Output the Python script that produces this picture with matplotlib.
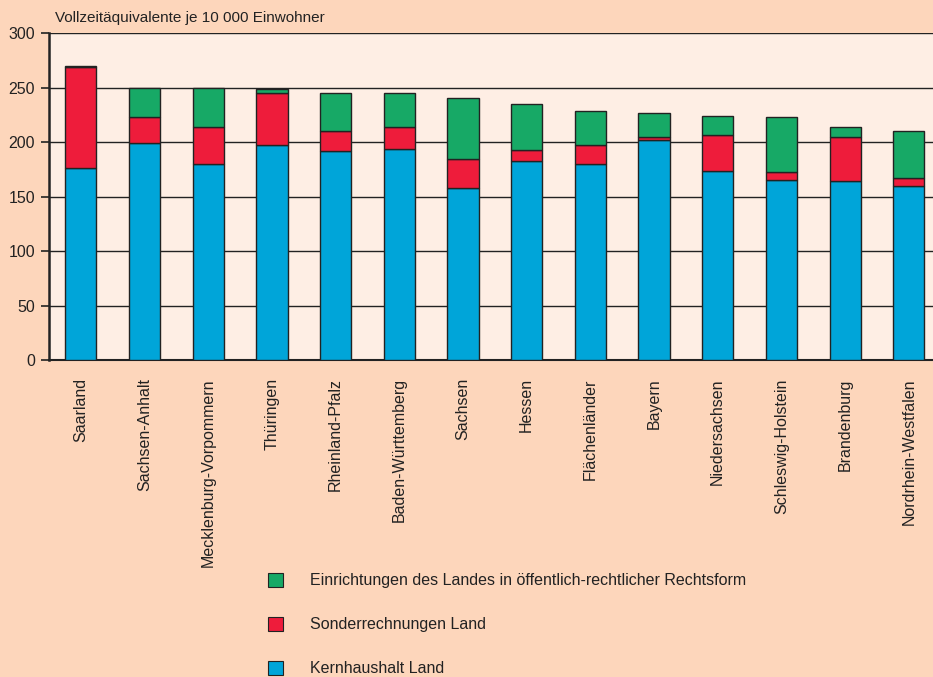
import numpy as np
import matplotlib.pyplot as plt
from matplotlib.patches import Patch

plt.rcParams['font.family'] = ['Liberation Sans', 'DejaVu Sans']

# Laender, sorted by total
laender = ["Saarland", "Sachsen-Anhalt", "Mecklenburg-Vorpommern", "Thüringen",
           "Rheinland-Pfalz", "Baden-Württemberg", "Sachsen", "Hessen",
           "Flächenländer", "Bayern", "Niedersachsen", "Schleswig-Holstein",
           "Brandenburg", "Nordrhein-Westfalen"]
kernhaushalt = [176, 199, 180, 197, 192, 194, 158, 182.5, 180, 202, 174, 165, 164, 160]
sonderrechnungen = [93, 24, 34, 48, 18, 20, 27, 10, 17, 2.5, 33, 7.5, 40.5, 7]
einrichtungen = [0.5, 27, 35.5, 4, 35, 31, 55.5, 42.5, 32, 22, 17, 50.5, 9, 43]

labels = ["Einrichtungen des Landes in öffentlich-rechtlicher Rechtsform",
          "Sonderrechnungen Land", "Kernhaushalt Land"]
c_green = "#17a966"
c_red = "#ee1c3b"
c_blue = "#00a5d9"
edge = "#222222"

fig = plt.figure(figsize=(9.33, 6.77), dpi=100)
fig.patch.set_facecolor("#fdd6bb")
ax = fig.add_axes([0.0525, 0.468, 0.9475, 0.483])
ax.set_facecolor("#feeee4")

x = np.arange(len(laender))
kern = np.array(kernhaushalt)
sond = np.array(sonderrechnungen)
einr = np.array(einrichtungen)
w = 0.49
ax.bar(x, kern, w, color=c_blue, edgecolor=edge, linewidth=1, zorder=3)
ax.bar(x, sond, w, bottom=kern, color=c_red, edgecolor=edge, linewidth=1, zorder=3)
ax.bar(x, einr, w, bottom=kern + sond, color=c_green, edgecolor=edge, linewidth=1, zorder=3)

ax.set_ylim(0, 300)
ax.set_yticks(range(0, 301, 50))
ax.set_xlim(-0.5, 13.38)
ax.grid(axis="y", color="#222222", linewidth=1, zorder=1)
ax.set_axisbelow(True)
for s in ["top", "right"]:
    ax.spines[s].set_visible(False)
ax.spines["left"].set_linewidth(1.8)
ax.spines["left"].set_color(edge)
ax.spines["bottom"].set_linewidth(1.5)
ax.spines["bottom"].set_color(edge)

ax.set_xticks(x)
ax.set_xticklabels(laender, rotation=90, fontsize=11.5, color="#222222")
ax.tick_params(axis="x", length=0, pad=13)
ax.tick_params(axis="y", length=6, width=1.2, color=edge, labelsize=11.5,
               labelcolor="#222222", pad=4)

fig.text(0.059, 0.973, "Vollzeitäquivalente je 10 000 Einwohner", fontsize=11,
         color="#222222", va="center")

handles = [Patch(facecolor=c, edgecolor=edge, linewidth=0.8) for c in (c_green, c_red, c_blue)]
leg = fig.legend(handles, labels, loc="upper left", bbox_to_anchor=(0.287, 0.154),
                 frameon=False, fontsize=11.5, handlelength=0.95, handleheight=0.95,
                 handletextpad=1.7, labelspacing=1.8, borderpad=0, borderaxespad=0)
for t in leg.get_texts():
    t.set_color("#222222")

fig.savefig("out.png", dpi=100, facecolor=fig.get_facecolor())
